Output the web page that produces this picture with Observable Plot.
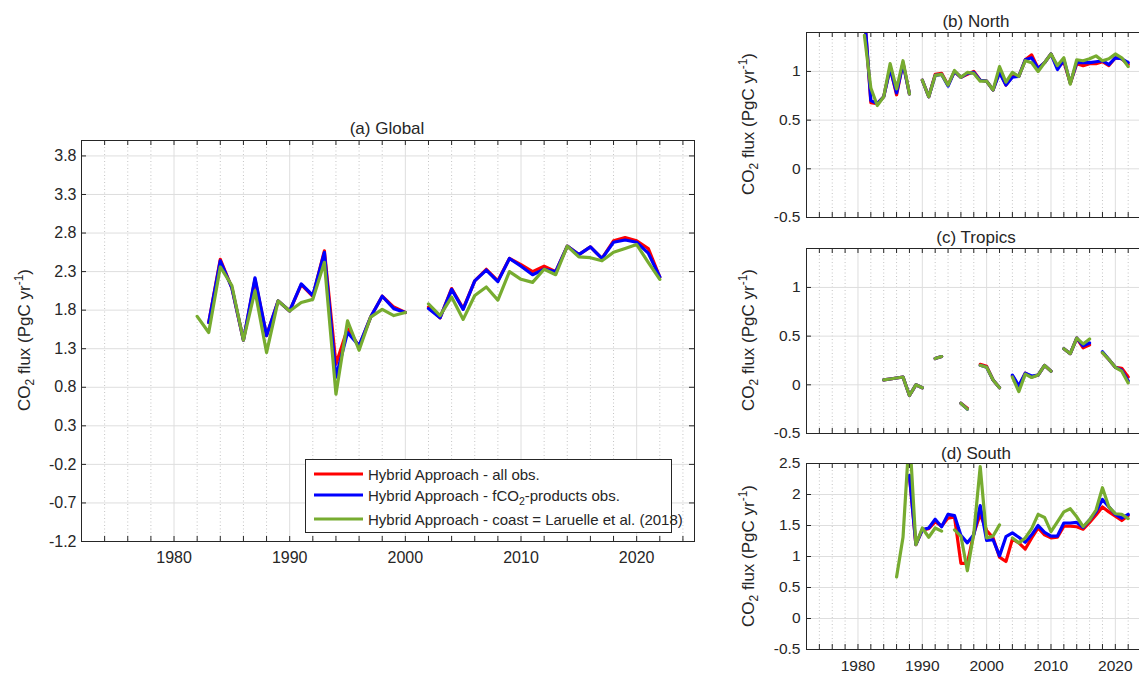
<!DOCTYPE html>
<html><head><meta charset="utf-8">
<script src="https://cdn.jsdelivr.net/npm/d3@7"></script>
<script src="https://cdn.jsdelivr.net/npm/@observablehq/plot@0.6"></script>
<style>
html,body{margin:0;padding:0;background:#fff;overflow:hidden;width:1139px;height:673px;}
body{position:relative;font-family:"Liberation Sans",Arial,Helvetica,sans-serif;color:#262626;}
.panel{position:absolute;}
.panel svg{max-width:none !important;}
.title{position:absolute;font-size:17px;white-space:nowrap;transform:translate(-50%,-50%);line-height:1;}
.ylab{position:absolute;font-size:17px;white-space:nowrap;transform:translate(-50%,-50%) rotate(-90deg);line-height:1;}
.ylab sub,.ylab sup,.leg sub{font-size:70%;line-height:0;}
#legend{position:absolute;left:305px;top:459px;width:367px;height:74px;border:1px solid #262626;background:#fff;box-sizing:border-box;}
.leg{position:absolute;left:62px;font-size:15px;white-space:nowrap;transform:translateY(-50%);line-height:1;}
.sw{position:absolute;left:8px;width:49px;height:3px;transform:translateY(-50%);}
</style></head>
<body>
<div id="app"></div>
<script>
// ---------- data ----------
const seriesNames = ["Hybrid Approach - all obs.", "Hybrid Approach - fCO2-products obs.", "Hybrid Approach - coast = Laruelle et al. (2018)"];
const seriesColors = ["#ff0000", "#0000ff", "#77ac30"];

const globalYears = [1982,1983,1984,1985,1986,1987,1988,1989,1990,1991,1992,1993,1994,1995,1996,1997,1998,1999,2000,2001,2002,2003,2004,2005,2006,2007,2008,2009,2010,2011,2012,2013,2014,2015,2016,2017,2018,2019,2020,2021,2022];
const globalRed   = [null,1.64,2.46,2.09,1.41,2.20,1.47,1.92,1.79,2.13,1.98,2.57,1.10,1.56,1.33,1.71,1.98,1.84,1.77,null,1.84,1.70,2.08,1.82,2.18,2.33,2.18,2.47,2.39,2.30,2.37,2.30,2.63,2.52,2.62,2.47,2.70,2.74,2.70,2.60,2.23];
const globalBlue  = [null,1.64,2.44,2.09,1.41,2.22,1.47,1.92,1.79,2.14,1.99,2.55,0.93,1.51,1.34,1.71,1.98,1.82,1.77,null,1.82,1.70,2.07,1.81,2.18,2.32,2.17,2.47,2.37,2.26,2.33,2.30,2.63,2.52,2.62,2.47,2.68,2.71,2.68,2.54,2.23];
const globalGreen = [1.72,1.51,2.36,2.12,1.41,2.05,1.25,1.92,1.79,1.90,1.94,2.42,0.71,1.66,1.28,1.71,1.81,1.73,1.77,null,1.88,1.73,1.97,1.68,1.99,2.10,1.93,2.30,2.20,2.16,2.33,2.26,2.63,2.49,2.48,2.44,2.55,2.60,2.65,2.42,2.20];

const northYears = [1981,1982,1983,1984,1985,1986,1987,1988,1989,1990,1991,1992,1993,1994,1995,1996,1997,1998,1999,2000,2001,2002,2003,2004,2005,2006,2007,2008,2009,2010,2011,2012,2013,2014,2015,2016,2017,2018,2019,2020,2021,2022];
const northRed   = [1.60,0.68,0.67,0.74,1.04,0.76,1.09,0.77,null,0.91,0.74,0.97,0.98,0.86,1.00,0.94,0.97,1.00,0.91,0.90,0.81,1.00,0.86,0.95,0.95,1.12,1.17,1.03,1.09,1.18,1.04,1.10,0.88,1.08,1.06,1.08,1.08,1.10,1.06,1.14,1.13,1.07];
const northBlue  = [1.60,0.70,0.67,0.74,1.03,0.78,1.08,0.77,null,0.91,0.74,0.96,0.97,0.85,1.00,0.94,0.98,0.99,0.91,0.90,0.81,0.99,0.86,0.94,0.95,1.12,1.14,1.03,1.09,1.18,1.02,1.12,0.88,1.09,1.09,1.09,1.10,1.11,1.07,1.14,1.13,1.09];
const northGreen = [1.37,0.83,0.65,0.74,1.08,0.82,1.11,0.77,null,0.91,0.74,0.96,0.97,0.86,1.01,0.94,0.99,0.98,0.90,0.90,0.81,1.05,0.89,0.99,0.95,1.11,1.09,1.00,1.09,1.18,1.06,1.14,0.87,1.12,1.11,1.13,1.16,1.11,1.13,1.18,1.14,1.05];

const tropicsYears = [1984,1985,1986,1987,1988,1989,1990,1991,1992,1993,1994,1995,1996,1997,1998,1999,2000,2001,2002,2003,2004,2005,2006,2007,2008,2009,2010,2011,2012,2013,2014,2015,2016,2017,2018,2019,2020,2021,2022];
const tropicsRed   = [0.05,0.06,0.07,0.08,-0.11,0.00,-0.03,null,0.27,0.29,null,null,-0.19,-0.24,null,0.21,0.19,0.05,-0.03,null,0.09,-0.02,0.12,0.08,0.10,0.20,0.14,null,0.37,0.32,0.48,0.38,0.41,null,0.33,0.26,0.18,0.17,0.08];
const tropicsBlue  = [0.05,0.06,0.07,0.08,-0.11,0.00,-0.03,null,0.27,0.29,null,null,-0.19,-0.25,null,0.20,0.18,0.05,-0.03,null,0.10,-0.01,0.12,0.09,0.10,0.20,0.14,null,0.37,0.32,0.48,0.40,0.43,null,0.34,0.26,0.18,0.15,0.04];
const tropicsGreen = [0.05,0.06,0.07,0.08,-0.11,0.00,-0.03,null,0.27,0.29,null,null,-0.19,-0.25,null,0.20,0.18,0.05,-0.03,null,0.08,-0.07,0.11,0.075,0.10,0.20,0.14,null,0.37,0.32,0.48,0.42,0.47,null,0.33,0.26,0.18,0.14,0.02];

const southYears = [1986,1987,1988,1989,1990,1991,1992,1993,1994,1995,1996,1997,1998,1999,2000,2001,2002,2003,2004,2005,2006,2007,2008,2009,2010,2011,2012,2013,2014,2015,2016,2017,2018,2019,2020,2021,2022];
const southRed   = [null,null,2.30,1.19,1.43,1.45,1.56,1.49,1.62,1.64,0.89,0.89,1.37,1.68,1.42,1.30,0.99,0.92,1.28,1.22,1.12,1.30,1.46,1.35,1.30,1.31,1.49,1.49,1.48,1.44,1.55,1.67,1.80,1.72,1.65,1.58,1.66];
const southBlue  = [null,null,2.31,1.19,1.43,1.46,1.60,1.48,1.68,1.66,1.34,1.22,1.35,1.82,1.26,1.27,1.01,1.32,1.38,1.31,1.23,1.35,1.50,1.39,1.33,1.33,1.54,1.54,1.55,1.47,1.59,1.72,1.92,1.80,1.68,1.62,1.68];
const southGreen = [0.67,1.31,3.00,1.19,1.46,1.31,1.46,1.41,null,1.43,1.33,0.77,1.37,2.45,1.30,1.33,1.51,null,1.30,1.22,1.30,1.45,1.68,1.63,1.40,1.56,1.72,1.77,1.64,1.48,1.59,1.75,2.11,1.80,1.69,1.68,1.61];

const xDomain = [1972, 2025];
const decadeTicks = [1980, 1990, 2000, 2010, 2020];
const minorTicks = [1974,1976,1978,1982,1984,1986,1988,1992,1994,1996,1998,2002,2004,2006,2008,2012,2014,2016,2018,2022,2024];
const allXTicks = [1974,1976,1978,1980,1982,1984,1986,1988,1990,1992,1994,1996,1998,2000,2002,2004,2006,2008,2010,2012,2014,2016,2018,2020,2022,2024];
const globalYTicks = [-1.2,-0.7,-0.2,0.3,0.8,1.3,1.8,2.3,2.8,3.3,3.8];
const nsYTicks = [-0.5,0,0.5,1];
const southYTicks = [-0.5,0,0.5,1,1.5,2,2.5];

// ---------- drawing ----------
const app = document.getElementById("app");
const AX = "#262626";

function rows(years, vals){ return years.map((y,i)=>({year:y, value:vals[i]})); }

function panel(o){
  const pw = o.width - o.ml - o.mr, ph = o.height - o.mt - o.mb;
  const tl = 5;
  const marks = [
    Plot.gridX(minorTicks, {stroke:"#c4c4c4", strokeOpacity:1, strokeDasharray:"1,2.5"}),
    Plot.gridX(decadeTicks, {stroke:"#dedede", strokeOpacity:1}),
    Plot.gridY(o.yTicks, {stroke:"#dedede", strokeOpacity:1}),
    Plot.line(rows(o.years,o.red),   {x:"year", y:"value", stroke:seriesColors[0], strokeWidth:3.2, clip:true}),
    Plot.line(rows(o.years,o.blue),  {x:"year", y:"value", stroke:seriesColors[1], strokeWidth:3.2, clip:true}),
    Plot.line(rows(o.years,o.green), {x:"year", y:"value", stroke:seriesColors[2], strokeWidth:3.2, clip:true}),
    Plot.gridX(allXTicks, {stroke:AX, strokeOpacity:1, insetTop: ph - tl}),
    Plot.gridX(allXTicks, {stroke:AX, strokeOpacity:1, insetBottom: ph - tl}),
    Plot.gridY(o.yTicks, {stroke:AX, strokeOpacity:1, insetRight: pw - tl}),
    Plot.gridY(o.yTicks, {stroke:AX, strokeOpacity:1, insetLeft: pw - tl}),
    Plot.frame({stroke:AX, strokeWidth:1}),
    Plot.axisY(o.yTicks, {tickSize:0, tickPadding:o.pad, tickFormat:o.fmt, fontSize:o.fs, label:null})
  ];
  if (o.xlabels) marks.push(Plot.axisX(decadeTicks, {tickSize:0, tickPadding:10, tickFormat:d=>String(d), fontSize:o.fs, label:null}));
  const svg = Plot.plot({
    width:o.width, height:o.height,
    marginLeft:o.ml, marginRight:o.mr, marginTop:o.mt, marginBottom:o.mb,
    x:{domain:xDomain, axis: o.xlabels ? undefined : null},
    y:{domain:o.yDomain},
    style:{fontFamily:"'Liberation Sans', Arial, Helvetica, sans-serif", fontSize:o.fs + "px", color:AX, background:"transparent", overflow:"visible", maxWidth:"none"},
    marks
  });
  svg.style.maxWidth = "none";
  svg.style.width = o.width + "px"; svg.style.height = o.height + "px";
  const wrap = document.createElement("div");
  wrap.className = "panel";
  wrap.style.left = o.left + "px"; wrap.style.top = o.top + "px";
  wrap.style.width = o.width + "px"; wrap.style.height = o.height + "px";
  wrap.appendChild(svg);
  app.appendChild(wrap);
}

const fmt1 = d => d.toFixed(1);
const fmtG = d => String(d);

panel({left:0, top:0, width:720, height:580, ml:81, mr:26, mt:140, mb:39, fs:16, pad:5,
  years:globalYears, red:globalRed, blue:globalBlue, green:globalGreen,
  yDomain:[-1.2,4.0], yTicks:globalYTicks, fmt:fmt1, xlabels:true});
panel({left:720, top:0, width:440, height:226, ml:86, mr:13, mt:32, mb:9, fs:15.5, pad:6,
  years:northYears, red:northRed, blue:northBlue, green:northGreen,
  yDomain:[-0.5,1.4], yTicks:nsYTicks, fmt:fmtG, xlabels:false});
panel({left:720, top:220, width:440, height:222, ml:86, mr:13, mt:28, mb:9, fs:15.5, pad:6,
  years:tropicsYears, red:tropicsRed, blue:tropicsBlue, green:tropicsGreen,
  yDomain:[-0.5,1.4], yTicks:nsYTicks, fmt:fmtG, xlabels:false});
panel({left:720, top:440, width:440, height:233, ml:86, mr:13, mt:23, mb:24, fs:15.5, pad:6,
  years:southYears, red:southRed, blue:southBlue, green:southGreen,
  yDomain:[-0.5,2.5], yTicks:southYTicks, fmt:fmtG, xlabels:true});

function addDiv(cls, html, x, y){
  const d = document.createElement("div");
  d.className = cls; d.innerHTML = html;
  d.style.left = x + "px"; d.style.top = y + "px";
  document.body.appendChild(d);
}
const ylabHTML = "CO<sub>2</sub> flux (PgC yr<sup>-1</sup>)";
addDiv("title", "(a) Global", 387, 128);
addDiv("title", "(b) North", 976, 21);
addDiv("title", "(c) Tropics", 976, 237);
addDiv("title", "(d) South", 976, 453);
addDiv("ylab", ylabHTML, 24, 340);
addDiv("ylab", ylabHTML, 748, 124);
addDiv("ylab", ylabHTML, 748, 340);
addDiv("ylab", ylabHTML, 748, 556);

const leg = document.createElement("div");
leg.id = "legend";
const legY = [14, 35, 59];
const legHTML = ["Hybrid Approach - all obs.", "Hybrid Approach - fCO<sub>2</sub>-products obs.", "Hybrid Approach - coast = Laruelle et al. (2018)"];
legHTML.forEach((h,i)=>{
  const sw = document.createElement("div"); sw.className="sw"; sw.style.top = legY[i]+"px"; sw.style.background = seriesColors[i];
  const t = document.createElement("div"); t.className="leg"; t.style.top = legY[i]+"px"; t.innerHTML = h;
  leg.appendChild(sw); leg.appendChild(t);
});
document.body.appendChild(leg);
</script>
</body></html>
